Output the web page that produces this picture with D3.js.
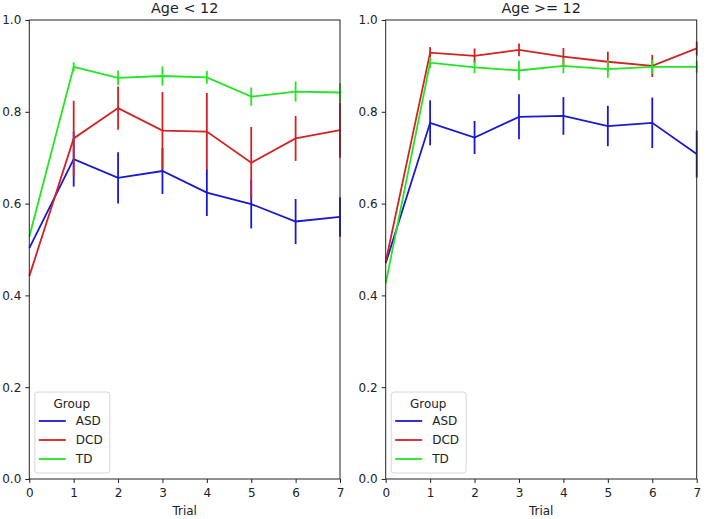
<!DOCTYPE html>
<html><head><meta charset="utf-8">
<script src="https://cdn.jsdelivr.net/npm/d3@7"></script>
<style>body{margin:0;background:#fff}svg{display:block;font-family:"DejaVu Sans",sans-serif}</style>
</head><body><svg id="c" width="708" height="519"></svg>
<script>
const trials = [0,1,2,3,4,5,6,7];
const groups = ["ASD","DCD","TD"];
const colors = ["#1818d4","#d42222","#22e622"];
const yTicks = [0.0,0.2,0.4,0.6,0.8,1.0];
const panelTitles = ["Age < 12","Age >= 12"];

// Age < 12: means and half-error
const youngASD = [0.503,0.697,0.656,0.671,0.624,0.599,0.561,0.571];
const youngASDerr = [0,0.06,0.056,0.05,0.051,0.053,0.049,0.043];
const youngDCD = [0.442,0.742,0.808,0.759,0.757,0.689,0.742,0.760];
const youngDCDerr = [0,0.082,0.047,0.084,0.084,0.078,0.049,0.060];
const youngTD = [0.528,0.898,0.874,0.878,0.875,0.833,0.844,0.842];
const youngTDerr = [0,0.010,0.016,0.021,0.014,0.020,0.022,0.020];

// Age >= 12
const oldASD = [0.470,0.776,0.744,0.789,0.791,0.769,0.776,0.708];
const oldASDerr = [0,0.049,0.036,0.049,0.041,0.044,0.055,0.051];
const oldDCD = [0.473,0.929,0.922,0.935,0.920,0.909,0.900,0.938];
const oldDCDerr = [0,0.012,0.016,0.014,0.019,0.022,0.024,0.015];
const oldTD = [0.426,0.907,0.897,0.890,0.900,0.893,0.898,0.898];
const oldTDerr = [0,0.012,0.013,0.021,0.016,0.019,0.015,0.013];

const panels = [
  {title: panelTitles[0], series: [youngASD,youngDCD,youngTD], errs: [youngASDerr,youngDCDerr,youngTDerr], x0: 29.3, x1: 340},
  {title: panelTitles[1], series: [oldASD,oldDCD,oldTD], errs: [oldASDerr,oldDCDerr,oldTDerr], x0: 385.7, x1: 696.7}
];

const svg = d3.select("#c");
const plotTop = 20, plotBottom = 479;
const y = d3.scaleLinear().domain([0,1]).range([plotBottom, plotTop]);

panels.forEach((p, pi) => {
  const x = d3.scaleLinear().domain([0,7]).range([p.x0, p.x1]);
  const g = svg.append("g");

  p.series.forEach((vals, si) => {
    const col = colors[si];
    const line = d3.line().x((d,i) => x(trials[i])).y(d => y(d));
    g.append("path").datum(vals).attr("d", line).attr("fill","none")
      .attr("stroke", col).attr("stroke-width", 1.8);
    g.selectAll(null).data(vals.map((v,i)=>({v, e:p.errs[si][i], t:trials[i]})).filter(d=>d.e>0))
      .enter().append("line")
      .attr("x1", d=>x(d.t)).attr("x2", d=>x(d.t))
      .attr("y1", d=>y(d.v - d.e)).attr("y2", d=>y(d.v + d.e))
      .attr("stroke", col).attr("stroke-width", 1.8);
  });

  g.append("rect").attr("x", p.x0).attr("y", plotTop).attr("width", p.x1-p.x0).attr("height", plotBottom-plotTop)
    .attr("fill","none").attr("stroke","#222").attr("stroke-width",1);

  const xa = g.append("g").attr("transform",`translate(0,${plotBottom})`)
    .call(d3.axisBottom(x).tickValues(trials).tickFormat(d3.format("d")).tickSize(4).tickPadding(5));
  const ya = g.append("g").attr("transform",`translate(${p.x0},0)`)
    .call(d3.axisLeft(y).tickValues(yTicks).tickFormat(d3.format(".1f")).tickSize(4).tickPadding(4));
  [xa, ya].forEach(a => {
    a.select(".domain").remove();
    a.selectAll("line").attr("stroke","#222");
    a.selectAll("text").attr("font-size", 12).attr("fill","#222").attr("font-family","DejaVu Sans, sans-serif");
  });

  g.append("text").attr("x",(p.x0+p.x1)/2).attr("y", 13).attr("text-anchor","middle")
    .attr("font-size", 14.4).attr("fill","#222").text(p.title);
  g.append("text").attr("x",(p.x0+p.x1)/2).attr("y", 515).attr("text-anchor","middle")
    .attr("font-size", 12).attr("fill","#222").text("Trial");

  const lx = p.x0 + 5.5, ly = 392;
  const leg = g.append("g");
  leg.append("rect").attr("x", lx).attr("y", ly).attr("width", 75).attr("height", 81).attr("rx", 3)
    .attr("fill","#fff").attr("fill-opacity",0.8).attr("stroke","#d8d8d8").attr("stroke-width",1);
  leg.append("text").attr("x", lx + 37).attr("y", ly + 15.5).attr("text-anchor","middle")
    .attr("font-size", 12).attr("fill","#222").text("Group");
  groups.forEach((gname, i) => {
    const yy = ly + 29 + i*19;
    leg.append("line").attr("x1", lx+4).attr("x2", lx+31).attr("y1", yy).attr("y2", yy)
      .attr("stroke", colors[i]).attr("stroke-width", 1.8);
    leg.append("text").attr("x", lx + 41).attr("y", yy + 4.3).attr("font-size", 12).attr("fill","#222").text(gname);
  });
});
</script></body></html>
